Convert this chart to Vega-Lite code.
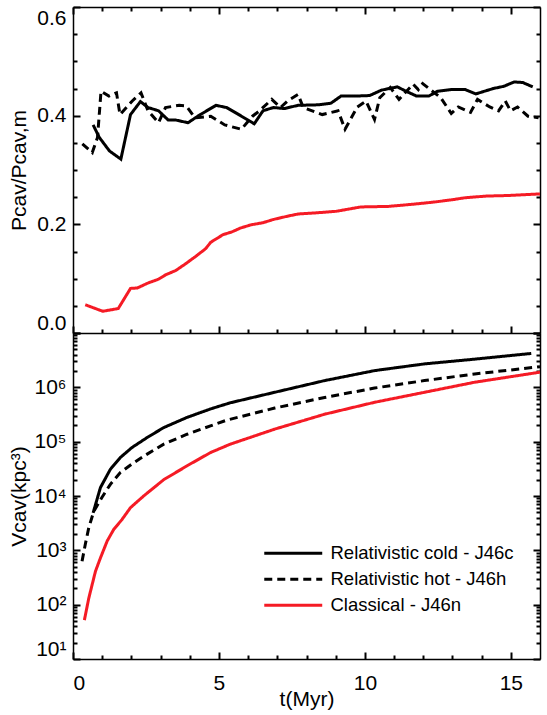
{
  "$schema": "https://vega.github.io/schema/vega-lite/v6.json",
  "padding": {"left": 8, "top": 6, "right": 2, "bottom": 5},
  "background": "white",
  "width": 467,
  "height": 652,
  "config": {
    "font": "Liberation Sans",
    "view": {"stroke": null},
    "axis": {
      "domainColor": "black", "domainWidth": 1.5, "tickColor": "black", "tickWidth": 2,
      "labelFont": "Liberation Sans, DejaVu Sans", "labelFontSize": 21, "labelColor": "black",
      "titleFont": "Liberation Sans", "titleFontSize": 21, "titleFontWeight": "normal", "titleColor": "black",
      "grid": false, "labelOverlap": false, "labelBound": false
    },
    "legend": {
      "symbolType": "M-4,0H4", "symbolStrokeWidth": 3, "symbolSize": 210,
      "labelFont": "Liberation Sans", "labelFontSize": 18.5, "labelColor": "black", "labelOffset": 28,
      "rowPadding": 7, "labelLimit": 400
    }
  },
  "datasets": {
    "ratio": [
      {"s": "Relativistic cold - J46c", "t": 0.69, "v": 0.383},
      {"s": "Relativistic cold - J46c", "t": 0.90, "v": 0.360},
      {"s": "Relativistic cold - J46c", "t": 1.25, "v": 0.335},
      {"s": "Relativistic cold - J46c", "t": 1.64, "v": 0.320},
      {"s": "Relativistic cold - J46c", "t": 1.97, "v": 0.402},
      {"s": "Relativistic cold - J46c", "t": 2.31, "v": 0.426},
      {"s": "Relativistic cold - J46c", "t": 2.57, "v": 0.415},
      {"s": "Relativistic cold - J46c", "t": 2.93, "v": 0.409},
      {"s": "Relativistic cold - J46c", "t": 3.26, "v": 0.392},
      {"s": "Relativistic cold - J46c", "t": 3.52, "v": 0.392},
      {"s": "Relativistic cold - J46c", "t": 3.94, "v": 0.387},
      {"s": "Relativistic cold - J46c", "t": 4.36, "v": 0.402},
      {"s": "Relativistic cold - J46c", "t": 4.90, "v": 0.419},
      {"s": "Relativistic cold - J46c", "t": 5.26, "v": 0.415},
      {"s": "Relativistic cold - J46c", "t": 5.68, "v": 0.402},
      {"s": "Relativistic cold - J46c", "t": 6.21, "v": 0.385},
      {"s": "Relativistic cold - J46c", "t": 6.51, "v": 0.409},
      {"s": "Relativistic cold - J46c", "t": 6.87, "v": 0.415},
      {"s": "Relativistic cold - J46c", "t": 7.23, "v": 0.413},
      {"s": "Relativistic cold - J46c", "t": 7.71, "v": 0.419},
      {"s": "Relativistic cold - J46c", "t": 8.42, "v": 0.420},
      {"s": "Relativistic cold - J46c", "t": 8.84, "v": 0.423},
      {"s": "Relativistic cold - J46c", "t": 9.18, "v": 0.436},
      {"s": "Relativistic cold - J46c", "t": 9.62, "v": 0.436},
      {"s": "Relativistic cold - J46c", "t": 10.16, "v": 0.437},
      {"s": "Relativistic cold - J46c", "t": 10.57, "v": 0.447},
      {"s": "Relativistic cold - J46c", "t": 11.11, "v": 0.453},
      {"s": "Relativistic cold - J46c", "t": 11.41, "v": 0.445},
      {"s": "Relativistic cold - J46c", "t": 11.77, "v": 0.436},
      {"s": "Relativistic cold - J46c", "t": 12.19, "v": 0.436},
      {"s": "Relativistic cold - J46c", "t": 12.49, "v": 0.445},
      {"s": "Relativistic cold - J46c", "t": 12.96, "v": 0.448},
      {"s": "Relativistic cold - J46c", "t": 13.44, "v": 0.448},
      {"s": "Relativistic cold - J46c", "t": 13.80, "v": 0.440},
      {"s": "Relativistic cold - J46c", "t": 14.40, "v": 0.450},
      {"s": "Relativistic cold - J46c", "t": 14.76, "v": 0.454},
      {"s": "Relativistic cold - J46c", "t": 15.11, "v": 0.462},
      {"s": "Relativistic cold - J46c", "t": 15.41, "v": 0.461},
      {"s": "Relativistic cold - J46c", "t": 15.75, "v": 0.453},
      {"s": "Relativistic hot - J46h", "t": 0.32, "v": 0.348},
      {"s": "Relativistic hot - J46h", "t": 0.66, "v": 0.332},
      {"s": "Relativistic hot - J46h", "t": 0.84, "v": 0.360},
      {"s": "Relativistic hot - J46h", "t": 0.96, "v": 0.445},
      {"s": "Relativistic hot - J46h", "t": 1.23, "v": 0.436},
      {"s": "Relativistic hot - J46h", "t": 1.49, "v": 0.442},
      {"s": "Relativistic hot - J46h", "t": 1.61, "v": 0.402},
      {"s": "Relativistic hot - J46h", "t": 2.03, "v": 0.427},
      {"s": "Relativistic hot - J46h", "t": 2.33, "v": 0.442},
      {"s": "Relativistic hot - J46h", "t": 2.57, "v": 0.409},
      {"s": "Relativistic hot - J46h", "t": 2.93, "v": 0.387},
      {"s": "Relativistic hot - J46h", "t": 3.17, "v": 0.415},
      {"s": "Relativistic hot - J46h", "t": 3.64, "v": 0.419},
      {"s": "Relativistic hot - J46h", "t": 3.88, "v": 0.418},
      {"s": "Relativistic hot - J46h", "t": 4.18, "v": 0.396},
      {"s": "Relativistic hot - J46h", "t": 4.72, "v": 0.399},
      {"s": "Relativistic hot - J46h", "t": 5.20, "v": 0.383},
      {"s": "Relativistic hot - J46h", "t": 5.77, "v": 0.375},
      {"s": "Relativistic hot - J46h", "t": 6.15, "v": 0.399},
      {"s": "Relativistic hot - J46h", "t": 6.39, "v": 0.409},
      {"s": "Relativistic hot - J46h", "t": 6.81, "v": 0.430},
      {"s": "Relativistic hot - J46h", "t": 7.11, "v": 0.415},
      {"s": "Relativistic hot - J46h", "t": 7.35, "v": 0.427},
      {"s": "Relativistic hot - J46h", "t": 7.71, "v": 0.439},
      {"s": "Relativistic hot - J46h", "t": 7.89, "v": 0.415},
      {"s": "Relativistic hot - J46h", "t": 8.54, "v": 0.402},
      {"s": "Relativistic hot - J46h", "t": 9.08, "v": 0.409},
      {"s": "Relativistic hot - J46h", "t": 9.32, "v": 0.375},
      {"s": "Relativistic hot - J46h", "t": 9.74, "v": 0.416},
      {"s": "Relativistic hot - J46h", "t": 10.04, "v": 0.427},
      {"s": "Relativistic hot - J46h", "t": 10.33, "v": 0.393},
      {"s": "Relativistic hot - J46h", "t": 10.51, "v": 0.433},
      {"s": "Relativistic hot - J46h", "t": 10.87, "v": 0.452},
      {"s": "Relativistic hot - J46h", "t": 11.17, "v": 0.430},
      {"s": "Relativistic hot - J46h", "t": 11.65, "v": 0.458},
      {"s": "Relativistic hot - J46h", "t": 11.83, "v": 0.448},
      {"s": "Relativistic hot - J46h", "t": 11.98, "v": 0.459},
      {"s": "Relativistic hot - J46h", "t": 12.60, "v": 0.433},
      {"s": "Relativistic hot - J46h", "t": 12.96, "v": 0.404},
      {"s": "Relativistic hot - J46h", "t": 13.20, "v": 0.416},
      {"s": "Relativistic hot - J46h", "t": 13.62, "v": 0.406},
      {"s": "Relativistic hot - J46h", "t": 13.86, "v": 0.430},
      {"s": "Relativistic hot - J46h", "t": 14.28, "v": 0.416},
      {"s": "Relativistic hot - J46h", "t": 14.58, "v": 0.409},
      {"s": "Relativistic hot - J46h", "t": 14.81, "v": 0.427},
      {"s": "Relativistic hot - J46h", "t": 14.99, "v": 0.409},
      {"s": "Relativistic hot - J46h", "t": 15.23, "v": 0.416},
      {"s": "Relativistic hot - J46h", "t": 15.59, "v": 0.399},
      {"s": "Relativistic hot - J46h", "t": 15.95, "v": 0.396},
      {"s": "Classical - J46n", "t": 0.42, "v": 0.052},
      {"s": "Classical - J46n", "t": 1.02, "v": 0.040},
      {"s": "Classical - J46n", "t": 1.55, "v": 0.045},
      {"s": "Classical - J46n", "t": 1.97, "v": 0.082},
      {"s": "Classical - J46n", "t": 2.21, "v": 0.083},
      {"s": "Classical - J46n", "t": 2.57, "v": 0.092},
      {"s": "Classical - J46n", "t": 2.93, "v": 0.099},
      {"s": "Classical - J46n", "t": 3.17, "v": 0.107},
      {"s": "Classical - J46n", "t": 3.52, "v": 0.115},
      {"s": "Classical - J46n", "t": 3.82, "v": 0.126},
      {"s": "Classical - J46n", "t": 4.18, "v": 0.140},
      {"s": "Classical - J46n", "t": 4.54, "v": 0.155},
      {"s": "Classical - J46n", "t": 4.72, "v": 0.167},
      {"s": "Classical - J46n", "t": 5.14, "v": 0.181},
      {"s": "Classical - J46n", "t": 5.44, "v": 0.186},
      {"s": "Classical - J46n", "t": 5.73, "v": 0.193},
      {"s": "Classical - J46n", "t": 6.09, "v": 0.199},
      {"s": "Classical - J46n", "t": 6.51, "v": 0.203},
      {"s": "Classical - J46n", "t": 6.87, "v": 0.209},
      {"s": "Classical - J46n", "t": 7.35, "v": 0.215},
      {"s": "Classical - J46n", "t": 7.71, "v": 0.219},
      {"s": "Classical - J46n", "t": 8.30, "v": 0.221},
      {"s": "Classical - J46n", "t": 9.02, "v": 0.224},
      {"s": "Classical - J46n", "t": 9.86, "v": 0.232},
      {"s": "Classical - J46n", "t": 10.81, "v": 0.233},
      {"s": "Classical - J46n", "t": 11.65, "v": 0.237},
      {"s": "Classical - J46n", "t": 12.37, "v": 0.241},
      {"s": "Classical - J46n", "t": 12.96, "v": 0.245},
      {"s": "Classical - J46n", "t": 13.44, "v": 0.249},
      {"s": "Classical - J46n", "t": 14.16, "v": 0.252},
      {"s": "Classical - J46n", "t": 14.87, "v": 0.253},
      {"s": "Classical - J46n", "t": 16.0, "v": 0.256}
    ],
    "vol": [
      {"s": "Relativistic cold - J46c", "t": 0.69, "v": 4900},
      {"s": "Relativistic cold - J46c", "t": 0.94, "v": 14300},
      {"s": "Relativistic cold - J46c", "t": 1.28, "v": 31000},
      {"s": "Relativistic cold - J46c", "t": 1.62, "v": 51000},
      {"s": "Relativistic cold - J46c", "t": 2.02, "v": 78000},
      {"s": "Relativistic cold - J46c", "t": 2.54, "v": 119000},
      {"s": "Relativistic cold - J46c", "t": 3.11, "v": 182000},
      {"s": "Relativistic cold - J46c", "t": 3.91, "v": 280000},
      {"s": "Relativistic cold - J46c", "t": 4.71, "v": 400000},
      {"s": "Relativistic cold - J46c", "t": 5.39, "v": 520000},
      {"s": "Relativistic cold - J46c", "t": 6.91, "v": 810000},
      {"s": "Relativistic cold - J46c", "t": 8.62, "v": 1330000},
      {"s": "Relativistic cold - J46c", "t": 10.33, "v": 2030000},
      {"s": "Relativistic cold - J46c", "t": 12.04, "v": 2700000},
      {"s": "Relativistic cold - J46c", "t": 13.76, "v": 3300000},
      {"s": "Relativistic cold - J46c", "t": 15.7, "v": 4200000},
      {"s": "Relativistic hot - J46h", "t": 0.31, "v": 630},
      {"s": "Relativistic hot - J46h", "t": 0.42, "v": 1280},
      {"s": "Relativistic hot - J46h", "t": 0.54, "v": 2600},
      {"s": "Relativistic hot - J46h", "t": 0.71, "v": 5200},
      {"s": "Relativistic hot - J46h", "t": 0.99, "v": 9400},
      {"s": "Relativistic hot - J46h", "t": 1.28, "v": 16400},
      {"s": "Relativistic hot - J46h", "t": 1.62, "v": 27000},
      {"s": "Relativistic hot - J46h", "t": 2.08, "v": 41000},
      {"s": "Relativistic hot - J46h", "t": 2.54, "v": 59000},
      {"s": "Relativistic hot - J46h", "t": 3.11, "v": 90000},
      {"s": "Relativistic hot - J46h", "t": 3.91, "v": 137000},
      {"s": "Relativistic hot - J46h", "t": 4.71, "v": 195000},
      {"s": "Relativistic hot - J46h", "t": 5.28, "v": 250000},
      {"s": "Relativistic hot - J46h", "t": 6.91, "v": 415000},
      {"s": "Relativistic hot - J46h", "t": 8.62, "v": 650000},
      {"s": "Relativistic hot - J46h", "t": 10.33, "v": 970000},
      {"s": "Relativistic hot - J46h", "t": 12.04, "v": 1330000},
      {"s": "Relativistic hot - J46h", "t": 13.76, "v": 1760000},
      {"s": "Relativistic hot - J46h", "t": 16.0, "v": 2400000},
      {"s": "Classical - J46n", "t": 0.39, "v": 52},
      {"s": "Classical - J46n", "t": 0.54, "v": 131},
      {"s": "Classical - J46n", "t": 0.77, "v": 412},
      {"s": "Classical - J46n", "t": 0.94, "v": 725},
      {"s": "Classical - J46n", "t": 1.17, "v": 1480},
      {"s": "Classical - J46n", "t": 1.39, "v": 2400},
      {"s": "Classical - J46n", "t": 1.68, "v": 3700},
      {"s": "Classical - J46n", "t": 1.97, "v": 6100},
      {"s": "Classical - J46n", "t": 2.42, "v": 10000},
      {"s": "Classical - J46n", "t": 3.11, "v": 20000},
      {"s": "Classical - J46n", "t": 3.91, "v": 36000},
      {"s": "Classical - J46n", "t": 4.71, "v": 63000},
      {"s": "Classical - J46n", "t": 5.39, "v": 90000},
      {"s": "Classical - J46n", "t": 6.91, "v": 170000},
      {"s": "Classical - J46n", "t": 8.62, "v": 320000},
      {"s": "Classical - J46n", "t": 10.33, "v": 530000},
      {"s": "Classical - J46n", "t": 12.04, "v": 810000},
      {"s": "Classical - J46n", "t": 13.76, "v": 1240000},
      {"s": "Classical - J46n", "t": 16.0, "v": 1900000}
    ]
  },
  "layer": [
    {
      "data": {"name": "ratio"},
      "mark": {"type": "line", "strokeWidth": 3, "clip": true},
      "encoding": {
        "x": {"field": "t", "type": "quantitative", "scale": {"domain": [0, 16], "nice": false, "zero": false},
          "axis": {"orient": "top", "labels": false, "ticks": false, "title": null}},
        "y": {"field": "v", "type": "quantitative", "scale": {"domain": [0, 0.6], "nice": false, "zero": false, "range": [326, 0]},
          "axis": {"orient": "left", "values": [0, 0.2, 0.4, 0.6], "format": ".1f", "ticks": false,
            "labelFlush": true, "labelPadding": 7,
            "title": "Pcav/Pcav,m", "titleX": -54, "titleBaseline": "middle"}},
        "color": {"field": "s", "type": "nominal", "title": null,
          "scale": {"domain": ["Relativistic cold - J46c", "Relativistic hot - J46h", "Classical - J46n"], "range": ["#000000", "#000000", "#f51b25"]},
          "legend": {"orient": "none", "legendX": 211, "legendY": 537}},
        "strokeDash": {"field": "s", "type": "nominal", "title": null,
          "scale": {"domain": ["Relativistic cold - J46c", "Relativistic hot - J46h", "Classical - J46n"], "range": [[1, 0], [8, 5], [1, 0]]},
          "legend": {"orient": "none", "legendX": 211, "legendY": 537}}
      }
    },
    {
      "data": {"name": "vol"},
      "mark": {"type": "line", "strokeWidth": 3, "clip": true},
      "encoding": {
        "x": {"field": "t", "type": "quantitative", "scale": {"domain": [0, 16], "nice": false, "zero": false},
          "axis": {"orient": "bottom", "values": [0, 5, 10, 15], "labelPadding": 13, "ticks": false,
            "title": "t(Myr)", "titleY": 40, "titleBaseline": "middle"}},
        "y": {"field": "v", "type": "quantitative", "scale": {"type": "log", "domain": [10, 10000000], "nice": false, "range": [652, 326]},
          "axis": {"orient": "left", "values": [10, 100, 1000, 10000, 100000, 1000000],
            "labelExpr": "'10' + ['⁰','¹','²','³','⁴','⁵','⁶','⁷'][round(log(datum.value)/LN10)]",
            "ticks": false, "labelFlush": true, "labelPadding": 7,
            "title": "Vcav(kpc³)", "titleX": -54, "titleBaseline": "middle"}},
        "color": {"field": "s", "type": "nominal", "title": null,
          "scale": {"domain": ["Relativistic cold - J46c", "Relativistic hot - J46h", "Classical - J46n"], "range": ["#000000", "#000000", "#f51b25"]},
          "legend": {"orient": "none", "legendX": 211, "legendY": 537}},
        "strokeDash": {"field": "s", "type": "nominal", "title": null,
          "scale": {"domain": ["Relativistic cold - J46c", "Relativistic hot - J46h", "Classical - J46n"], "range": [[1, 0], [8, 5], [1, 0]]},
          "legend": {"orient": "none", "legendX": 211, "legendY": 537}}
      }
    },
    {
      "data": {"name": "ratio"},
      "mark": {"type": "line", "opacity": 0},
      "encoding": {
        "x": {"field": "t", "type": "quantitative", "scale": {"domain": [0, 16], "nice": false, "zero": false},
          "axis": {"orient": "bottom", "offset": -326, "labels": false, "ticks": false, "title": null}},
        "y": {"field": "v", "type": "quantitative", "scale": {"domain": [0, 0.6], "nice": false, "zero": false, "range": [326, 0]},
          "axis": {"orient": "right", "labels": false, "ticks": false, "title": null}},
        "detail": {"field": "s"}
      }
    },
    {
      "data": {"name": "vol"},
      "mark": {"type": "line", "opacity": 0},
      "encoding": {
        "x": {"field": "t", "type": "quantitative", "scale": {"domain": [0, 16], "nice": false, "zero": false}, "axis": null},
        "y": {"field": "v", "type": "quantitative", "scale": {"type": "log", "domain": [10, 10000000], "nice": false, "range": [652, 326]},
          "axis": {"orient": "right", "labels": false, "ticks": false, "title": null}},
        "detail": {"field": "s"}
      }
    },
    {
      "data": {"name": "ratio"},
      "mark": {"type": "line", "opacity": 0},
      "encoding": {
        "x": {"field": "t", "type": "quantitative", "scale": {"domain": [0, 16], "nice": false, "zero": false},
          "axis": {"orient": "top", "values": [0, 5, 10, 15], "labels": false, "domain": false, "title": null, "tickSize": 7, "offset": -7}},
        "y": {"field": "v", "type": "quantitative", "scale": {"domain": [0, 0.6], "nice": false, "zero": false, "range": [326, 0]},
          "axis": {"orient": "left", "values": [0, 0.2, 0.4, 0.6], "labels": false, "domain": false, "title": null, "tickSize": 7, "offset": -7}},
        "detail": {"field": "s"}
      }
    },
    {
      "data": {"name": "ratio"},
      "mark": {"type": "line", "opacity": 0},
      "encoding": {
        "x": {"field": "t", "type": "quantitative", "scale": {"domain": [0, 16], "nice": false, "zero": false},
          "axis": {"orient": "top", "values": [1,2,3,4,6,7,8,9,11,12,13,14], "labels": false, "domain": false, "title": null, "tickSize": 4, "offset": -4}},
        "y": {"field": "v", "type": "quantitative", "scale": {"domain": [0, 0.6], "nice": false, "zero": false, "range": [326, 0]},
          "axis": {"orient": "right", "values": [0, 0.2, 0.4, 0.6], "labels": false, "domain": false, "title": null, "tickSize": 7, "offset": -7}},
        "detail": {"field": "s"}
      }
    },
    {
      "data": {"name": "ratio"},
      "mark": {"type": "line", "opacity": 0},
      "encoding": {
        "x": {"field": "t", "type": "quantitative", "scale": {"domain": [0, 16], "nice": false, "zero": false},
          "axis": {"orient": "bottom", "values": [0, 5, 10, 15], "labels": false, "domain": false, "title": null, "tickSize": 7, "offset": -333}},
        "y": {"field": "v", "type": "quantitative", "scale": {"domain": [0, 0.6], "nice": false, "zero": false, "range": [326, 0]},
          "axis": {"orient": "left", "values": [0.05, 0.1, 0.15, 0.25, 0.3, 0.35, 0.45, 0.5, 0.55], "labels": false, "domain": false, "title": null, "tickSize": 4, "offset": -4}},
        "detail": {"field": "s"}
      }
    },
    {
      "data": {"name": "ratio"},
      "mark": {"type": "line", "opacity": 0},
      "encoding": {
        "x": {"field": "t", "type": "quantitative", "scale": {"domain": [0, 16], "nice": false, "zero": false},
          "axis": {"orient": "bottom", "values": [1,2,3,4,6,7,8,9,11,12,13,14], "labels": false, "domain": false, "title": null, "tickSize": 4, "offset": -330}},
        "y": {"field": "v", "type": "quantitative", "scale": {"domain": [0, 0.6], "nice": false, "zero": false, "range": [326, 0]},
          "axis": {"orient": "right", "values": [0.05, 0.1, 0.15, 0.25, 0.3, 0.35, 0.45, 0.5, 0.55], "labels": false, "domain": false, "title": null, "tickSize": 4, "offset": -4}},
        "detail": {"field": "s"}
      }
    },
    {
      "data": {"name": "vol"},
      "mark": {"type": "line", "opacity": 0},
      "encoding": {
        "x": {"field": "t", "type": "quantitative", "scale": {"domain": [0, 16], "nice": false, "zero": false},
          "axis": {"orient": "bottom", "values": [0, 5, 10, 15], "labels": false, "domain": false, "title": null, "tickSize": 7, "offset": -7}},
        "y": {"field": "v", "type": "quantitative", "scale": {"type": "log", "domain": [10, 10000000], "nice": false, "range": [652, 326]},
          "axis": {"orient": "left", "values": [10, 100, 1000, 10000, 100000, 1000000, 10000000], "labels": false, "domain": false, "title": null, "tickSize": 7, "offset": -7}},
        "detail": {"field": "s"}
      }
    },
    {
      "data": {"name": "vol"},
      "mark": {"type": "line", "opacity": 0},
      "encoding": {
        "x": {"field": "t", "type": "quantitative", "scale": {"domain": [0, 16], "nice": false, "zero": false},
          "axis": {"orient": "bottom", "values": [1,2,3,4,6,7,8,9,11,12,13,14], "labels": false, "domain": false, "title": null, "tickSize": 4, "offset": -4}},
        "y": {"field": "v", "type": "quantitative", "scale": {"type": "log", "domain": [10, 10000000], "nice": false, "range": [652, 326]},
          "axis": {"orient": "right", "values": [10, 100, 1000, 10000, 100000, 1000000, 10000000], "labels": false, "domain": false, "title": null, "tickSize": 7, "offset": -7}},
        "detail": {"field": "s"}
      }
    },
    {
      "data": {"name": "vol"},
      "mark": {"type": "line", "opacity": 0},
      "encoding": {
        "x": {"field": "t", "type": "quantitative", "scale": {"domain": [0, 16], "nice": false, "zero": false}, "axis": null},
        "y": {"field": "v", "type": "quantitative", "scale": {"type": "log", "domain": [10, 10000000], "nice": false, "range": [652, 326]},
          "axis": {"orient": "left", "values": [20,30,40,50,60,70,80,90,200,300,400,500,600,700,800,900,2000,3000,4000,5000,6000,7000,8000,9000,20000,30000,40000,50000,60000,70000,80000,90000,200000,300000,400000,500000,600000,700000,800000,900000,2000000,3000000,4000000,5000000,6000000,7000000,8000000,9000000],
            "labels": false, "domain": false, "title": null, "tickSize": 4, "offset": -4}},
        "detail": {"field": "s"}
      }
    },
    {
      "data": {"name": "vol"},
      "mark": {"type": "line", "opacity": 0},
      "encoding": {
        "x": {"field": "t", "type": "quantitative", "scale": {"domain": [0, 16], "nice": false, "zero": false}, "axis": null},
        "y": {"field": "v", "type": "quantitative", "scale": {"type": "log", "domain": [10, 10000000], "nice": false, "range": [652, 326]},
          "axis": {"orient": "right", "values": [20,30,40,50,60,70,80,90,200,300,400,500,600,700,800,900,2000,3000,4000,5000,6000,7000,8000,9000,20000,30000,40000,50000,60000,70000,80000,90000,200000,300000,400000,500000,600000,700000,800000,900000,2000000,3000000,4000000,5000000,6000000,7000000,8000000,9000000],
            "labels": false, "domain": false, "title": null, "tickSize": 4, "offset": -4}},
        "detail": {"field": "s"}
      }
    }
  ],
  "resolve": {"scale": {"x": "independent", "y": "independent"}}
}
